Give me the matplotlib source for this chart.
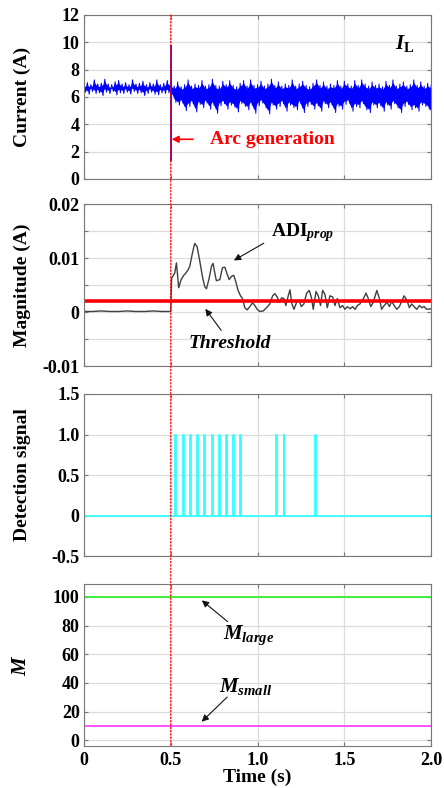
import numpy as np
import matplotlib.pyplot as plt
from matplotlib.patches import ConnectionPatch

plt.rcParams['font.family'] = ['Liberation Serif', 'DejaVu Serif']
plt.rcParams['font.weight'] = 'bold'
plt.rcParams['mathtext.fontset'] = 'custom'
plt.rcParams['mathtext.rm'] = 'Liberation Serif:bold'
plt.rcParams['mathtext.it'] = 'Liberation Serif:italic:bold'
plt.rcParams['mathtext.bf'] = 'Liberation Serif:bold'

# ---- current I_L: upper / lower extremes of the noisy band, every 0.02 s ----
band_t = np.round(np.arange(0, 2.0001, 0.02), 3)
band_hi = [6.95, 7.05, 6.9, 7.25, 6.95, 7.0, 7.3, 6.95, 6.9, 7.1, 7.2, 6.95, 7.05,
           6.9, 7.25, 6.95, 7.0, 7.15, 6.9, 7.05, 6.95, 7.25, 6.9, 7.0, 7.2, 7.0,
           6.8, 7.1, 6.75, 6.9, 7.25, 6.8, 6.95, 6.85, 7.2, 6.8, 6.9, 7.3, 6.85, 6.8, 7.15,
           6.9, 7.2, 6.85, 6.75, 7.0, 7.2, 6.8, 7.25, 6.85, 6.9, 7.15, 6.8, 6.95, 7.3, 6.85,
           7.1, 6.8, 6.95, 6.85, 7.25, 6.8, 6.95, 7.15, 6.85, 6.75, 7.0, 7.25, 6.85, 7.1, 6.8,
           6.95, 6.85, 7.2, 6.8, 7.15, 6.95, 6.8, 7.2, 6.85, 7.25, 6.95, 6.8, 7.1, 6.85, 6.95,
           6.75, 7.15, 6.85, 7.25, 6.8, 6.95, 7.1, 6.8, 6.9, 7.25, 6.85, 7.1, 6.8, 7.0, 6.85]
band_lo = [6.35, 6.2, 6.4, 6.25, 6.3, 6.1, 6.35, 6.25, 6.4, 6.15, 6.3, 6.25, 6.35,
           6.2, 6.4, 6.25, 6.3, 6.1, 6.25, 6.35, 6.2, 6.15, 6.3, 6.25, 6.3, 6.2,
           5.6, 5.4, 5.55, 5.0, 5.3, 5.5, 4.9, 5.45, 5.2, 5.55, 5.1, 5.4, 4.8, 5.35, 5.5,
           5.1, 5.4, 5.25, 4.9, 5.5, 5.3, 5.05, 5.4, 4.8, 5.35, 5.55, 5.2, 4.75, 5.4, 5.1,
           5.3, 5.5, 4.95, 5.4, 5.2, 5.05, 5.5, 4.85, 5.3, 5.45, 5.1, 5.35, 4.95, 5.5, 5.2,
           5.4, 4.85, 5.3, 5.1, 5.45, 5.55, 4.95, 5.3, 5.2, 5.5, 5.05, 4.85, 5.4, 5.2, 5.35,
           4.95, 5.4, 5.1, 5.5, 5.2, 4.85, 5.3, 5.45, 5.05, 5.2, 4.95, 5.4, 5.3, 5.1, 4.7]
arc_t = 0.502
arc_range = (1.3, 9.8)

# ---- ADI_prop magnitude ----
adi_t = [0.0, 0.05, 0.1, 0.15, 0.2, 0.25, 0.3, 0.35, 0.4, 0.45, 0.5, 0.505,
         0.51, 0.523, 0.533, 0.546, 0.56, 0.575, 0.587, 0.60, 0.61, 0.625, 0.638,
         0.652, 0.667, 0.683, 0.696, 0.706, 0.721, 0.735, 0.744, 0.754, 0.763,
         0.783, 0.798, 0.812, 0.825, 0.837, 0.85, 0.863, 0.875, 0.888, 0.902,
         0.913, 0.927, 0.94, 0.956, 0.971, 0.985, 0.998, 1.013, 1.033, 1.052,
         1.071, 1.087, 1.10, 1.113, 1.125, 1.138, 1.152, 1.163, 1.177, 1.187,
         1.198, 1.21, 1.225, 1.24, 1.252, 1.267, 1.283, 1.298, 1.312, 1.321,
         1.337, 1.35, 1.363, 1.375, 1.388, 1.402, 1.417, 1.433, 1.446, 1.46,
         1.475, 1.49, 1.504, 1.517, 1.533, 1.548, 1.562, 1.575, 1.59, 1.61,
         1.625, 1.638, 1.652, 1.667, 1.687, 1.702, 1.715, 1.729, 1.746, 1.76,
         1.773, 1.787, 1.802, 1.817, 1.831, 1.844, 1.86, 1.875, 1.888, 1.902,
         1.917, 1.933, 1.946, 1.96, 1.975, 2.0]
adi_v = [0.0001, 0.0001, 0.0002, 0.0001, 0.0001, 0.0002, 0.0001, 0.0001, 0.0002, 0.0001, 0.0001, 0.0062,
         0.0065, 0.0072, 0.0091, 0.0045, 0.0060, 0.0068, 0.0072, 0.0078, 0.0085, 0.0109, 0.0127,
         0.0121, 0.0095, 0.0065, 0.0047, 0.0043, 0.0062, 0.0085, 0.0090, 0.0072, 0.0058,
         0.0060, 0.0082, 0.0083, 0.0070, 0.0060, 0.0066, 0.0068, 0.0056, 0.0040, 0.0030,
         0.0025, 0.0008, 0.0004, 0.0010, 0.0017, 0.0012, 0.0005, 0.0001, 0.0002, 0.0008,
         0.0015, 0.0030, 0.0034, 0.0028, 0.0018, 0.0026, 0.0025, 0.0012, 0.0030, 0.0041,
         0.0015, 0.0005, 0.0018, 0.0022, 0.0010, 0.0015, 0.0035, 0.0040, 0.0025, 0.0005,
         0.0038, 0.0030, 0.0012, 0.0040, 0.0033, 0.0008, 0.0030, 0.0028, 0.0012, 0.0025,
         0.0008, 0.0012, 0.0005, 0.0010, 0.0006, 0.0010, 0.0005, 0.0012, 0.0015, 0.0025,
         0.0035, 0.0025, 0.0010, 0.0018, 0.0040, 0.0025, 0.0005, 0.0012, 0.0018, 0.0010,
         0.0020, 0.0012, 0.0005, 0.0010, 0.0020, 0.0030, 0.0022, 0.0008, 0.0015, 0.0010,
         0.0005, 0.0012, 0.0008, 0.0010, 0.0005, 0.0006]
threshold = 0.002

# ---- detection signal pulses ----
pulse_t = [0.527, 0.569, 0.611, 0.653, 0.694, 0.736, 0.777, 0.819, 0.859, 0.900,
           1.108, 1.150, 1.331]
pulse_w = 0.005

# ---- M values ----
m_large = 100
m_small = 10

xticks = [0, 0.5, 1.0, 1.5, 2.0]
xticklabels = ['0', '0.5', '1.0', '1.5', '2.0']

fig = plt.figure(figsize=(4.44, 7.88), dpi=100)
left, width = 0.189, 0.782
ax1 = fig.add_axes([left, 0.773, width, 0.208])
ax2 = fig.add_axes([left, 0.5355, width, 0.2056])
ax3 = fig.add_axes([left, 0.2944, width, 0.2056])
ax4 = fig.add_axes([left, 0.0533, width, 0.2056])
axes = [ax1, ax2, ax3, ax4]

for ax in axes:
    ax.set_xlim(0, 2)
    ax.set_xticks(xticks)
    ax.grid(True, color='#dcdcdc', lw=0.9)
    ax.set_axisbelow(True)
    for s in ax.spines.values():
        s.set_color('#777777')
        s.set_linewidth(0.8)
    ax.tick_params(direction='in', length=3, color='#777777', labelsize=13, pad=3)
    ax.tick_params(axis='x', top=True, pad=4)
    ax.tick_params(axis='y', right=True)
for ax in axes[:3]:
    ax.set_xticklabels([])
ax4.set_xticklabels(xticklabels)

# panel 1 - current, drawn as a zigzag between the extremes
zz_t = np.column_stack([band_t, band_t + 0.01]).ravel()[:-1]
zz_v = np.column_stack([band_hi, band_lo]).ravel()[:-1]
ax1.fill_between(band_t, np.array(band_lo) + 0.25, np.array(band_hi) - 0.2,
                 color='#0000ff', lw=0)
ax1.plot(zz_t, zz_v, color='#0000ff', lw=0.7)
ax1.vlines(arc_t, arc_range[0], arc_range[1], color='#0000ff', lw=1.2)
ax1.set_ylim(0, 12)
ax1.set_yticks(range(0, 13, 2))
ax1.set_ylabel('Current (A)', fontsize=14, fontweight='bold')
ax1.text(1.79, 9.9, r'$\mathit{I}_{\mathrm{L}}$', fontsize=15, ha='left', va='center')
ax1.text(0.725, 2.9, 'Arc generation', color='#ff0000', fontsize=14,
         fontweight='bold', va='center')
ax1.annotate('', xy=(0.505, 2.9), xytext=(0.628, 2.9),
             arrowprops=dict(arrowstyle='-|>', color='#ff0000', lw=1.2,
                             shrinkA=0, shrinkB=0, mutation_scale=10))

# panel 2 - ADI magnitude
ax2.plot(adi_t, adi_v, color='#404040', lw=1.0)
ax2.axhline(threshold, color='#ff0000', lw=2.6)
ax2.set_ylim(-0.01, 0.02)
ax2.set_yticks(np.arange(-0.01, 0.0201, 0.005))
ax2.set_yticklabels(['-0.01', '', '0', '', '0.01', '', '0.02'])
ax2.set_ylabel('Magnitude (A)', fontsize=14, fontweight='bold')
ax2.text(1.08, 0.0148, r'ADI$_{\mathit{prop}}$', fontsize=14, ha='left', va='center')
ax2.annotate('', xy=(0.85, 0.0093), xytext=(1.05, 0.013),
             arrowprops=dict(arrowstyle='-|>', color='#111111', lw=0.8, mutation_scale=10))
ax2.text(0.84, -0.0058, 'Threshold', fontsize=14, fontstyle='italic', ha='center', va='center')
ax2.annotate('', xy=(0.69, 0.001), xytext=(0.80, -0.0038),
             arrowprops=dict(arrowstyle='-|>', color='#111111', lw=0.8, mutation_scale=10))

# panel 3 - detection signal
sig_t, sig_v = [0.0], [0.0]
for p in pulse_t:
    sig_t += [p, p, p + pulse_w, p + pulse_w]
    sig_v += [0, 1, 1, 0]
sig_t.append(2.0)
sig_v.append(0.0)
ax3.plot(sig_t, sig_v, color='#33ffff', lw=1.3)
ax3.set_ylim(-0.5, 1.5)
ax3.set_yticks([-0.5, 0, 0.5, 1.0, 1.5])
ax3.set_yticklabels(['-0.5', '0', '0.5', '1.0', '1.5'])
ax3.set_ylabel('Detection signal', fontsize=14, fontweight='bold')

# panel 4 - M
ax4.plot([0, 2], [m_large, m_large], color='#33ee33', lw=1.3)
ax4.plot([0, 2], [m_small, m_small], color='#ff44ff', lw=1.3)
ax4.set_ylim(-4, 109)
ax4.set_yticks(range(0, 101, 20))
ax4.set_ylabel(r'$\mathit{M}$', fontsize=15)
ax4.set_xlabel('Time (s)', fontsize=14, fontweight='bold')
ax4.xaxis.set_label_coords(0.5, -0.14)
ax4.text(0.95, 73, r'$\mathit{M}_{\mathit{large}}$', fontsize=15, ha='center', va='center')
ax4.annotate('', xy=(0.667, 98.8), xytext=(0.84, 81.5),
             arrowprops=dict(arrowstyle='-|>', color='#111111', lw=0.8, mutation_scale=10))
ax4.text(0.93, 37.5, r'$\mathit{M}_{\mathit{small}}$', fontsize=15, ha='center', va='center')
ax4.annotate('', xy=(0.667, 11.6), xytext=(0.837, 31.5),
             arrowprops=dict(arrowstyle='-|>', color='#111111', lw=0.8, mutation_scale=10))

for ax in axes:
    ax.yaxis.set_label_coords(-0.153, 0.5)

# dotted marker of arc onset through all panels
con = ConnectionPatch(xyA=(0.5, 12), coordsA=ax1.transData,
                      xyB=(0.5, -4), coordsB=ax4.transData,
                      color='#ff0000', lw=0.9, linestyle=':')
fig.add_artist(con)

fig.savefig('out.png', dpi=100)
